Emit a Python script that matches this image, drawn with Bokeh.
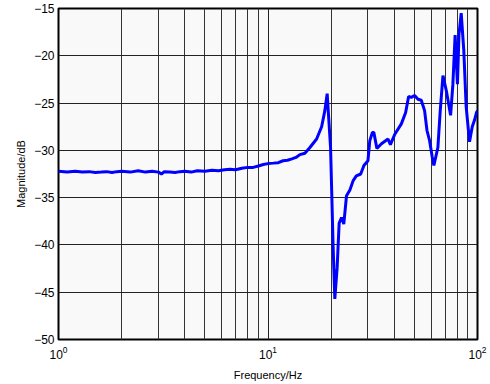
from bokeh.plotting import figure
from bokeh.models import FixedTicker
from bokeh.embed import file_html
from bokeh.resources import INLINE

# Frequency response samples (Hz, dB)
freq_hz = [
    1.0, 1.1, 1.2, 1.3, 1.4, 1.5, 1.6, 1.7, 1.8, 1.9,
    2.0, 2.2, 2.4, 2.6, 2.8, 3.0, 3.1, 3.2, 3.4, 3.6,
    3.8, 4.0, 4.3, 4.6, 5.0, 5.4, 5.8, 6.2, 6.6, 7.0,
    7.5, 8.0, 8.5, 9.0, 9.5, 10.0, 10.6, 11.2, 11.8, 12.4,
    13.0, 13.6, 14.2, 15.0, 15.85, 17.06, 18.03, 18.68, 19.16, 19.89,
    20.46, 20.84, 21.38, 21.86, 22.44, 23.0, 23.7, 24.6, 25.5, 26.4,
    27.7, 28.7, 30.0, 30.6, 31.5, 32.0, 33.1, 34.8, 37.4, 38.4,
    40.3, 43.3, 45.4, 46.9, 48.3, 50.1, 52.0, 53.9, 55.9, 57.4,
    59.1, 60.8, 61.9, 64.7, 66.4, 68.4, 71.0, 74.4, 76.3, 78.2,
    80.2, 81.6, 83.6, 86.0, 88.3, 91.6, 94.4, 96.8, 98.9, 100.0,
]
magnitude_db = [
    -32.2, -32.3, -32.2, -32.3, -32.25, -32.35, -32.3, -32.25, -32.35, -32.25,
    -32.2, -32.3, -32.15, -32.3, -32.2, -32.3, -32.5, -32.25, -32.3, -32.35,
    -32.25, -32.2, -32.3, -32.15, -32.2, -32.1, -32.15, -32.05, -32.0, -32.05,
    -31.9, -31.8, -31.8, -31.65, -31.5, -31.4, -31.35, -31.3, -31.1, -31.05,
    -30.9, -30.75, -30.45, -30.3, -29.7, -28.8, -27.5, -25.8, -24.0, -29.7,
    -40.2, -45.7, -42.4, -37.7, -37.1, -37.8, -34.8, -34.2, -33.2, -32.7,
    -32.5, -31.6, -31.1, -29.0, -28.1, -28.1, -29.8, -29.3, -28.8, -29.4,
    -28.3, -27.2, -26.0, -24.3, -24.4, -24.2, -24.6, -24.7, -25.8, -27.9,
    -29.0, -30.7, -31.6, -29.7, -25.8, -22.1, -23.7, -26.3, -23.0, -17.8,
    -23.0, -17.7, -15.5, -19.4, -25.4, -29.1, -27.5, -26.8, -26.0, -25.8,
]

y_ticks = [-50, -45, -40, -35, -30, -25, -20, -15]
x_major = [1, 10, 100]
x_minor = [2, 3, 4, 5, 6, 7, 8, 9, 20, 30, 40, 50, 60, 70, 80, 90]

FONT = "Liberation Sans"

p = figure(
    width=490, height=384,
    x_axis_type="log",
    x_range=(1, 100), y_range=(-50, -15),
    output_backend="svg", toolbar_location=None,
    min_border_left=58, min_border_right=13,
    min_border_top=8, min_border_bottom=45,
)
p.background_fill_color = "#f9f9f9"
p.border_fill_color = "white"
p.outline_line_color = "black"
p.outline_line_width = 2

p.line(freq_hz, magnitude_db, line_color="#0000ff", line_width=3)

p.xaxis.ticker = FixedTicker(ticks=x_major, minor_ticks=x_minor)
p.yaxis.ticker = FixedTicker(ticks=y_ticks)

for ax in (p.xaxis[0], p.yaxis[0]):
    ax.axis_line_color = None
    ax.major_tick_in = 0
    ax.major_tick_out = 0
    ax.minor_tick_in = 0
    ax.minor_tick_out = 0
    ax.major_label_text_font = FONT
    ax.major_label_text_font_size = "12px"
    ax.major_label_text_color = "black"
    ax.axis_label_text_font = FONT
    ax.axis_label_text_font_size = "11px"
    ax.axis_label_text_font_style = "normal"
    ax.axis_label_text_color = "black"

p.yaxis.major_label_standoff = 4
p.yaxis.axis_label_standoff = 4
p.xaxis.major_label_standoff = 6
p.xaxis.axis_label_standoff = 7

p.xaxis.axis_label = "Frequency/Hz"
p.yaxis.axis_label = "Magnitude/dB"

p.xgrid.grid_line_color = "#222222"
p.xgrid.grid_line_width = 1
p.xgrid.minor_grid_line_color = "#333333"
p.xgrid.minor_grid_line_width = 1
p.ygrid.grid_line_color = "#222222"
p.ygrid.grid_line_width = 1

open("out.html", "w").write(file_html(p, INLINE))
